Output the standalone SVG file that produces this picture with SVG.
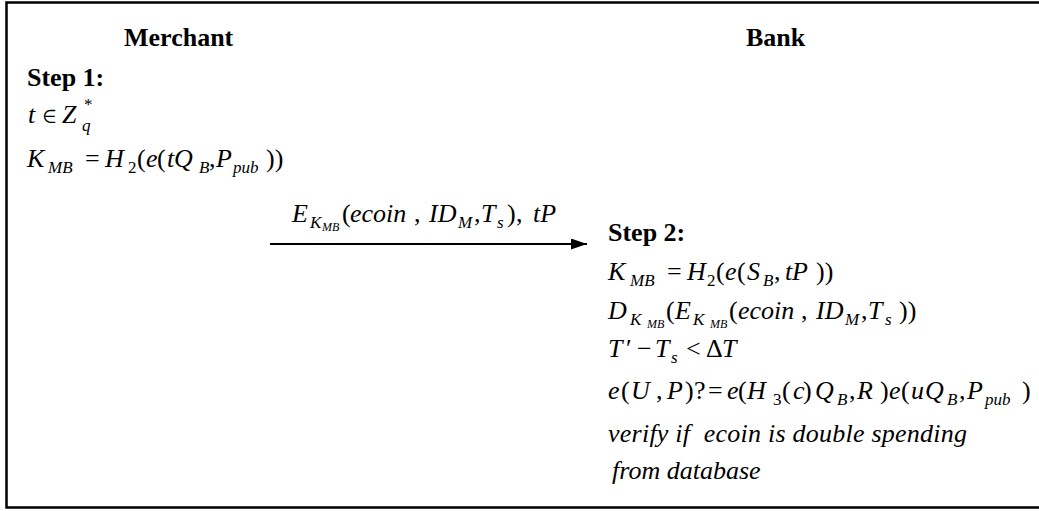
<svg xmlns="http://www.w3.org/2000/svg" width="1039" height="511" viewBox="0 0 1039 511">
  <style>
    text { font-family: "Liberation Serif", "Times New Roman", Times, "Nimbus Roman", FreeSerif, "DejaVu Serif", "Noto Serif", serif; font-size: 26px; fill: #000; }
    .b { font-weight: bold; }
    .i { font-style: italic; }
    .s { font-size: 17px; }
    .ss { font-size: 12px; }
    .frame { fill: none; stroke: #000; stroke-width: 2.5; }
    .flow { fill: none; stroke: #000; stroke-width: 2; }
  </style>
  <defs>
    <marker id="arrowhead" markerUnits="userSpaceOnUse" markerWidth="17" markerHeight="12" refX="16" refY="5.5" orient="auto">
      <path d="M0,0 L16,5.5 L0,11 Z" fill="#000"/>
    </marker>
  </defs>

  <rect width="1039" height="511" fill="#fff"/>
  <!-- outer frame, open on the right -->
  <path class="frame" d="M1045,2.5 H6.5 V507.5 H1045"/>

  <!-- merchant side -->
  <g id="merchant">
    <text class="b" x="124" y="46">Merchant</text>
    <text class="b" x="27" y="86">Step 1:</text>
    <text>
      <tspan class="i" x="28" y="123">t</tspan>
      <tspan x="43" y="123">∈</tspan>
      <tspan class="i" x="62" y="123">Z</tspan>
      <tspan class="s" x="84" y="110">*</tspan>
      <tspan class="i s" x="82" y="131">q</tspan>
    </text>
    <text>
      <tspan class="i" x="27" y="167">K</tspan>
      <tspan class="i s" x="48" y="173">MB</tspan>
      <tspan x="85" y="167">=</tspan>
      <tspan class="i" x="105" y="167">H</tspan>
      <tspan class="s" x="128" y="173">2</tspan>
      <tspan x="137" y="167">(</tspan>
      <tspan class="i" x="146" y="167">e</tspan>
      <tspan x="157" y="167">(</tspan>
      <tspan class="i" x="167" y="167">t</tspan>
      <tspan class="i" x="174" y="167">Q</tspan>
      <tspan class="i s" x="199" y="173">B</tspan>
      <tspan x="209" y="167">,</tspan>
      <tspan class="i" x="216" y="167">P</tspan>
      <tspan class="i s" x="233" y="173">pub</tspan>
      <tspan x="266" y="167">))</tspan>
    </text>
  </g>

  <!-- bank side -->
  <g id="bank">
    <text class="b" x="746" y="46">Bank</text>
    <text class="b" x="608" y="241">Step 2:</text>
    <text>
      <tspan class="i" x="608" y="280">K</tspan>
      <tspan class="i s" x="630" y="286">MB</tspan>
      <tspan x="667" y="280">=</tspan>
      <tspan class="i" x="687" y="280">H</tspan>
      <tspan class="s" x="707" y="286">2</tspan>
      <tspan x="716" y="280">(</tspan>
      <tspan class="i" x="725" y="280">e</tspan>
      <tspan x="737" y="280">(</tspan>
      <tspan class="i" x="747" y="280">S</tspan>
      <tspan class="i s" x="763" y="286">B</tspan>
      <tspan x="774" y="280">,</tspan>
      <tspan class="i" x="785" y="280">t</tspan>
      <tspan class="i" x="792" y="280">P</tspan>
      <tspan x="816" y="280">))</tspan>
    </text>
    <text>
      <tspan class="i" x="608" y="319">D</tspan>
      <tspan class="i s" x="630" y="325">K</tspan>
      <tspan class="i ss" x="647" y="328">MB</tspan>
      <tspan x="666" y="319">(</tspan>
      <tspan class="i" x="675" y="319">E</tspan>
      <tspan class="i s" x="693" y="325">K</tspan>
      <tspan class="i ss" x="710" y="328">MB</tspan>
      <tspan x="729" y="319">(</tspan>
      <tspan class="i" x="738" y="319">ecoin</tspan>
      <tspan x="801" y="319">,</tspan>
      <tspan class="i" x="816" y="319">ID</tspan>
      <tspan class="i s" x="845" y="325">M</tspan>
      <tspan x="861" y="319">,</tspan>
      <tspan class="i" x="868" y="319">T</tspan>
      <tspan class="i s" x="885" y="325">s</tspan>
      <tspan x="899" y="319">))</tspan>
    </text>
    <text>
      <tspan class="i" x="608" y="357">T</tspan>
      <tspan x="626" y="357">′</tspan>
      <tspan x="637" y="357">−</tspan>
      <tspan class="i" x="655" y="357">T</tspan>
      <tspan class="i s" x="671" y="363">s</tspan>
      <tspan x="686" y="357">&lt;</tspan>
      <tspan x="706" y="357">Δ</tspan>
      <tspan class="i" x="722" y="357">T</tspan>
    </text>
    <text>
      <tspan class="i" x="608" y="399">e</tspan>
      <tspan x="621" y="399">(</tspan>
      <tspan class="i" x="631" y="399">U</tspan>
      <tspan x="656" y="399">,</tspan>
      <tspan class="i" x="667" y="399">P</tspan>
      <tspan x="685" y="399">)</tspan>
      <tspan x="694" y="399">?</tspan>
      <tspan x="708" y="399">=</tspan>
      <tspan class="i" x="727" y="399">e</tspan>
      <tspan x="738" y="399">(</tspan>
      <tspan class="i" x="747" y="399">H</tspan>
      <tspan class="s" x="773" y="405">3</tspan>
      <tspan x="782" y="399">(</tspan>
      <tspan class="i" x="793" y="399">c</tspan>
      <tspan x="803" y="399">)</tspan>
      <tspan class="i" x="815" y="399">Q</tspan>
      <tspan class="i s" x="837" y="405">B</tspan>
      <tspan x="849" y="399">,</tspan>
      <tspan class="i" x="857" y="399">R</tspan>
      <tspan x="880" y="399">)</tspan>
      <tspan class="i" x="889" y="399">e</tspan>
      <tspan x="901" y="399">(</tspan>
      <tspan class="i" x="911" y="399">u</tspan>
      <tspan class="i" x="925" y="399">Q</tspan>
      <tspan class="i s" x="947" y="405">B</tspan>
      <tspan x="959" y="399">,</tspan>
      <tspan class="i" x="967" y="399">P</tspan>
      <tspan class="i s" x="985" y="405">pub</tspan>
      <tspan x="1022" y="399">)</tspan>
    </text>
    <text class="i" x="608" y="442" textLength="359" xml:space="preserve">verify if  ecoin is double spending</text>
    <text class="i" x="612" y="479">from database</text>
  </g>

  <!-- message from merchant to bank -->
  <g id="connectors">
    <path class="flow" d="M270,244 H587" marker-end="url(#arrowhead)"/>
    <text>
      <tspan class="i" x="292" y="222">E</tspan>
      <tspan class="i s" x="310" y="228">K</tspan>
      <tspan class="i ss" x="322" y="231">MB</tspan>
      <tspan x="342" y="222">(</tspan>
      <tspan class="i" x="350" y="222">ecoin</tspan>
      <tspan x="414" y="222">,</tspan>
      <tspan class="i" x="429" y="222">ID</tspan>
      <tspan class="i s" x="458" y="228">M</tspan>
      <tspan x="474" y="222">,</tspan>
      <tspan class="i" x="481" y="222">T</tspan>
      <tspan class="i s" x="497" y="228">s</tspan>
      <tspan x="507" y="222">)</tspan>
      <tspan x="516" y="222">,</tspan>
      <tspan class="i" x="533" y="222">tP</tspan>
    </text>
  </g>
</svg>
